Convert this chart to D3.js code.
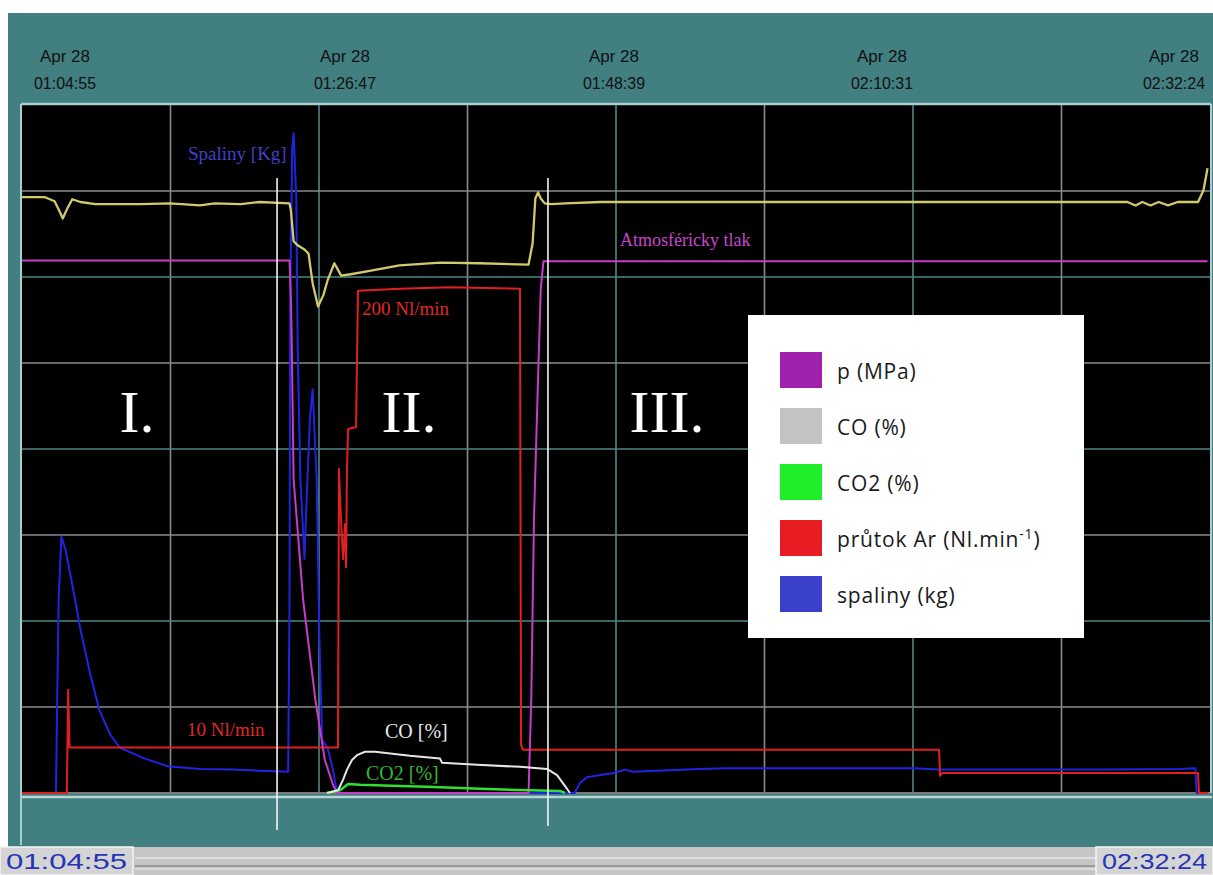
<!DOCTYPE html>
<html><head><meta charset="utf-8">
<script src="https://cdn.jsdelivr.net/npm/d3@7"></script>
<style>
html,body{margin:0;padding:0;background:#fff;}
svg{display:block;}
</style></head><body>
<svg id="c" width="1213" height="875"></svg>
<script>
// ---------- DATA ----------
const dateLabel = "Apr 28";
const timeTicks = ["01:04:55", "01:26:47", "01:48:39", "02:10:31", "02:32:24"];
const spanMinutes = 87.48;            // 01:04:55 -> 02:32:24
const startLabel = "01:04:55";
const endLabel = "02:32:24";
const phaseBoundaries = [18.78, 38.73]; // minutes since start
const phaseNames = ["I.", "II.", "III."];

// [minutes since start, % of full scale]
const yellowTrace = [[0,86.6],[1.7,86.6],[2.4,86.0],[2.8,84.4],[3.0,83.5],[3.3,84.8],[3.7,86.3],[4.3,85.9],[5.4,85.6],[8.7,85.6],[10.9,85.7],[13.1,85.4],[14.2,85.7],[16.1,85.6],[17.5,85.9],[19.7,85.7],[19.8,84.7],[20.0,80.2],[20.3,79.6],[20.8,79.0],[21.1,78.4],[21.4,74.1],[21.8,70.7],[22.2,72.4],[22.5,74.5],[23.0,77.0],[23.5,75.2],[24.2,75.4],[25.6,75.9],[27.8,76.7],[30.8,77.1],[33.7,77.0],[37.3,76.8],[37.6,79.9],[37.8,86.4],[38.0,87.3],[38.2,86.4],[38.5,85.7],[39.0,85.6],[40.0,85.7],[42.6,85.9],[57.3,85.9],[72.0,85.9],[81.4,85.9],[82.0,85.4],[82.5,85.9],[83.1,85.4],[83.7,85.9],[84.4,85.4],[85.1,85.9],[86.6,85.9],[87.0,87.6],[87.3,90.8]];
const pressure = [[0,77.4],[19.7,77.4],[19.8,71.9],[19.85,67.1],[19.9,60.2],[20.0,45.6],[20.7,28.1],[21.6,13.6],[22.3,4.8],[22.9,1.2],[23.2,0],[37.3,0],[37.5,13.6],[37.7,39.8],[38.0,60.2],[38.2,73.3],[38.4,77.3],[87.3,77.3]];
const spaliny = [[0,0],[2.5,0],[2.6,15.0],[2.7,28.1],[2.9,37.3],[3.2,35.4],[3.7,30.3],[4.3,23.8],[5.0,17.5],[5.7,12.0],[6.5,8.5],[7.2,6.6],[8.9,5.1],[10.7,3.9],[13.1,3.5],[15.5,3.4],[19.6,3.1],[19.7,28.1],[19.75,71.9],[19.9,93.7],[20.0,95.9],[20.2,86.4],[20.3,64.6],[20.5,45.6],[20.8,34.0],[20.9,39.8],[21.2,54.4],[21.4,58.7],[21.7,45.6],[21.9,22.3],[22.1,7.7],[22.5,6.6],[22.9,3.4],[23.2,0],[40.7,0],[41.1,1.5],[41.6,2.3],[42.6,2.6],[43.6,2.9],[44.4,3.4],[45.0,3.1],[46.2,3.2],[49.9,3.5],[51.9,3.6],[57.3,3.6],[65.7,3.6],[67.5,3.4],[72.0,3.4],[79.4,3.4],[85.3,3.5],[86.4,3.6],[86.5,0],[87.3,0]];
const argonFlow = [[0,0],[3.3,0],[3.4,15.0],[3.5,6.6],[23.27,6.6],[23.34,47.1],[23.49,39.8],[23.64,34.0],[23.79,39.1],[23.86,32.8],[23.93,47.1],[24.01,52.9],[24.6,53.2],[24.74,73.0],[27.84,73.3],[31.52,73.5],[36.67,73.3],[36.75,7.0],[36.89,6.3],[38.73,6.3],[67.53,6.3],[67.6,2.5],[67.75,2.9],[86.6,2.9],[86.67,0],[87.33,0]];
const coPct = [[22.46,0],[23.27,0.4],[23.64,1.9],[23.93,3.4],[24.3,4.8],[24.67,5.5],[25.26,6.0],[26.0,6.0],[28.57,5.4],[30.78,5.0],[30.93,4.4],[33.51,4.1],[36.67,3.8],[38.66,3.5],[39.4,2.6],[39.99,1.0],[40.35,0]];
const co2Pct = [[22.46,0],[23.42,0.4],[24.01,1.3],[24.89,1.2],[27.84,1.0],[29.82,0.9],[33.73,0.6],[37.41,0.4],[39.62,0.3],[39.99,0]];

const legendLabels = ["p (MPa)", "CO (%)", "CO2 (%)", "průtok Ar (Nl.min^-1^)", "spaliny (kg)"];
const legendColors = ["#a021ae", "#c3c3c3", "#1fef2a", "#e81d24", "#3a40cc"];

// ---------- LAYOUT ----------
const svg = d3.select("#c");
const P = {l: 22, r: 1210, t: 105, b: 793};
const x = d3.scaleLinear().domain([0, spanMinutes]).range([P.l, P.r]);
const y = d3.scaleLinear().domain([0, 100]).range([P.b, P.t]);
const tickPos = d3.scaleOrdinal().domain(timeTicks).range([65, 345, 614, 882, 1174]);

svg.append("rect").attr("width",1213).attr("height",875).attr("fill","#fff");
// teal panel
svg.append("rect").attr("x",8).attr("y",13).attr("width",1205).attr("height",834).attr("fill","#417f80");

// top tick labels
const narrow = "'Liberation Sans Narrow','Arial Narrow','Liberation Sans',Arial,sans-serif";
const tg = svg.append("g").attr("font-family", narrow).attr("fill","#111").attr("font-size",17);
timeTicks.forEach((t,i)=>{
  const cx = tickPos(t);
  tg.append("text").attr("x",cx).attr("y",62).attr("text-anchor","middle")
    .attr("textLength",50).attr("lengthAdjust","spacingAndGlyphs").text(dateLabel);
  tg.append("text").attr("x",cx).attr("y",89).attr("text-anchor","middle")
    .attr("textLength",62).attr("lengthAdjust","spacingAndGlyphs").text(t);
});

// plot frame
svg.append("rect").attr("x",P.l).attr("y",P.t).attr("width",P.r-P.l).attr("height",P.b-P.t).attr("fill","#000");
svg.append("line").attr("x1",P.l-1).attr("x2",P.r+1).attr("y1",P.t-1).attr("y2",P.t-1).attr("stroke","#a9cccc").attr("stroke-width",2.5);
svg.append("line").attr("x1",P.l-1).attr("x2",P.l-1).attr("y1",P.t-1).attr("y2",845).attr("stroke","#a9cccc").attr("stroke-width",2);
svg.append("line").attr("x1",P.r+1).attr("x2",P.r+1).attr("y1",P.t-1).attr("y2",P.b).attr("stroke","#a9cccc").attr("stroke-width",2);
svg.append("line").attr("x1",P.l-1).attr("x2",P.r+2).attr("y1",P.b+4).attr("y2",P.b+4).attr("stroke","#b9d4d4").attr("stroke-width",2.5);

// grid
const grid = svg.append("g");
d3.range(1,8).forEach(k=>{
  const col = k%2 ? "#8a8a8a" : "#4f8686";
  grid.append("line").attr("x1",x(k*spanMinutes/8)).attr("x2",x(k*spanMinutes/8))
    .attr("y1",P.t).attr("y2",P.b).attr("stroke",col).attr("stroke-width",1.6);
  grid.append("line").attr("x1",P.l).attr("x2",P.r).attr("y1",y(k*12.5)).attr("y2",y(k*12.5))
    .attr("stroke",col).attr("stroke-width",1.6);
});
grid.append("line").attr("x1",P.l).attr("x2",P.r).attr("y1",P.b).attr("y2",P.b).attr("stroke","#7a7a7a").attr("stroke-width",2);

// series
const line = d3.line().x(d=>x(d[0])).y(d=>y(d[1]));
const plot = svg.append("g").attr("fill","none").attr("stroke-linejoin","round").attr("stroke-width",2);
plot.append("path").datum(spaliny).attr("d",line).attr("stroke","#2024e0");
plot.append("path").datum(argonFlow).attr("d",line).attr("stroke","#e02020");
plot.append("path").datum(pressure).attr("d",line).attr("stroke","#c83cc8");
plot.append("path").datum(yellowTrace).attr("d",line).attr("stroke","#d2c96c").attr("stroke-width",2.3);
plot.append("path").datum(co2Pct).attr("d",line).attr("stroke","#2fe02f").attr("stroke-width",2.5);
plot.append("path").datum(coPct).attr("d",line).attr("stroke","#e6e6e6");

// phase separators
phaseBoundaries.forEach((t,i)=>{
  svg.append("line").attr("x1",x(t)).attr("x2",x(t)).attr("y1",178).attr("y2",i?826:830)
    .attr("stroke","#f4f4f4").attr("stroke-width",1.6);
});

// phase labels
const serif = "'Liberation Serif','Times New Roman',serif";
const phaseX = [137, 409, 667];
phaseNames.forEach((n,i)=>{
  svg.append("text").attr("x",phaseX[i]).attr("y",432).attr("text-anchor","middle")
    .attr("font-family",serif).attr("font-size",60).attr("fill","#fff").text(n);
});

// annotations
const ann = [
  {t:"Spaliny [Kg]", x:188, y:160, c:"#4040c8", s:19},
  {t:"Atmosféricky tlak", x:620, y:246, c:"#c846c8", s:18},
  {t:"200 Nl/min", x:362, y:315, c:"#e02828", s:19},
  {t:"10 Nl/min", x:187, y:736, c:"#e02828", s:19},
  {t:"CO [%]", x:385, y:738, c:"#e8e8e8", s:20},
  {t:"CO2 [%]", x:366, y:780, c:"#33b833", s:20}
];
ann.forEach(a=>svg.append("text").attr("x",a.x).attr("y",a.y).attr("font-family",serif)
  .attr("font-size",a.s).attr("fill",a.c).text(a.t));

// legend
const lg = svg.append("g");
lg.append("rect").attr("x",748).attr("y",315).attr("width",336).attr("height",323).attr("fill","#fff");
legendLabels.forEach((lab,i)=>{
  const yy = 352 + i*56;
  lg.append("rect").attr("x",780).attr("y",yy).attr("width",42).attr("height",36).attr("fill",legendColors[i]);
  const t = lg.append("text").attr("x",837).attr("y",yy+27).attr("font-family","'Open Sans','Noto Sans',sans-serif")
    .attr("font-size",21).attr("letter-spacing",0.8).attr("fill","#1a1a1a");
  const parts = lab.split("^");
  parts.forEach((p,j)=>{
    if(!p) return;
    const ts = t.append("tspan").text(p);
    if(j%2===1) ts.attr("font-size",14).attr("dy",-8);
    else if(j>0) ts.attr("dy",8);
  });
});

// bottom bar
const bb = svg.append("g");
bb.append("rect").attr("x",0).attr("y",847).attr("width",1213).attr("height",28).attr("fill","#c6c6c6");
bb.append("line").attr("x1",135).attr("x2",1096).attr("y1",858).attr("y2",858).attr("stroke","#e6e6e6").attr("stroke-width",1.5);
bb.append("line").attr("x1",135).attr("x2",1096).attr("y1",866).attr("y2",866).attr("stroke","#8c8c8c").attr("stroke-width",1.5);
bb.append("line").attr("x1",135).attr("x2",1096).attr("y1",869).attr("y2",869).attr("stroke","#f0f0f0").attr("stroke-width",1);
[[0,133,startLabel],[1096,117,endLabel]].forEach(([bx,bw,lab])=>{
  bb.append("rect").attr("x",bx).attr("y",847).attr("width",bw).attr("height",28).attr("fill","#d4d4d4")
    .attr("stroke","#f4f4f4").attr("stroke-width",1.5);
  bb.append("text").attr("x",bx+bw/2).attr("y",869).attr("text-anchor","middle")
    .attr("font-family",narrow).attr("font-size",22).attr("fill","#2535b5")
    .attr("textLength",bw-12).attr("lengthAdjust","spacingAndGlyphs").text(lab);
});
</script>
</body></html>
